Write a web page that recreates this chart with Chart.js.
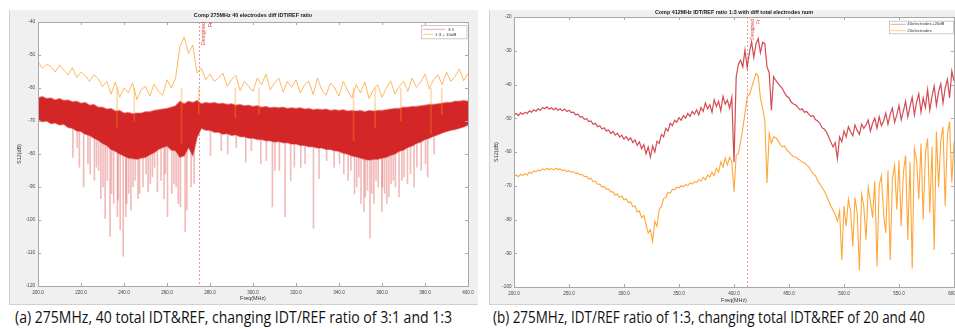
<!DOCTYPE html>
<html lang="en">
  <head>
    <meta charset="UTF-8" />
    <title>S12 comparison</title>
    <script src="https://cdn.jsdelivr.net/npm/chart.js@4.4.1/dist/chart.umd.min.js"></script>
    <style>
      body { margin: 0; width: 955px; height: 329px; overflow: hidden; position: relative; background: #fff; }
      .fig { position: absolute; top: 10px; height: 295px; background: #f0f0f0; box-shadow: inset 1px -1px 0 #d0d0d0; }
      #figA { left: 9px; width: 469px; }
      #figB { left: 489px; width: 466px; }
      .fig canvas { position: absolute; left: 0; top: 0; }
      .cap { position: absolute; top: 309.5px; font-family: "Open Sans", sans-serif; font-size: 15.5px; line-height: 1; color: #111; white-space: nowrap; transform-origin: 0 0; }
    </style>
  </head>
  <body>
    <div class="fig" id="figA"><canvas id="chartA" width="469" height="295"></canvas></div>
    <div class="fig" id="figB"><canvas id="chartB" width="466" height="295"></canvas></div>
    <div class="cap" id="capA" style="left: 15px">(a) 275MHz, 40 total IDT&amp;REF, changing IDT/REF ratio of 3:1 and 1:3</div>
    <div class="cap" id="capB" style="left: 493px">(b) 275MHz, IDT/REF ratio of 1:3, changing total IDT&amp;REF of 20 and 40</div>
    <script>
      // ---- (a) 275MHz, 40 electrodes, 3:1 vs 1:3 ----
      const freqA = Array.from({ length: 101 }, (_, i) => 200 + 2 * i);
      const xTicksA = [200, 220, 240, 260, 280, 300, 320, 340, 360, 380, 400];
      const yTicksA = [-120, -110, -100, -90, -80, -70, -60, -50, -40];
      const designFreqA = 275;

      // 1:3 + 10dB (orange)
      const ratio13 = [
        -52.0, -54.0, -52.8, -53.5, -55.2, -53.0, -54.6, -56.0, -53.8, -56.8,
        -55.2, -56.2, -58.0, -56.0, -57.2, -59.5, -58.0, -61.8, -58.2, -62.8,
        -60.0, -61.5, -58.5, -63.5, -60.5, -59.5, -62.5, -58.8, -61.0, -62.2,
        -57.5, -60.0, -57.0, -47.5, -44.5, -49.5, -47.0, -55.5, -54.0, -57.5,
        -55.8, -58.0, -57.0, -55.5, -59.5, -57.5, -56.2, -60.8, -58.0, -59.5,
        -61.0, -57.0, -59.0, -55.8, -60.5, -58.5, -57.0, -61.2, -58.0, -59.8,
        -57.5, -61.5, -59.0, -58.0, -62.0, -57.0, -60.5, -62.2, -58.5, -60.0,
        -62.5, -58.0, -60.8, -63.0, -59.0, -61.5, -58.2, -63.2, -60.5, -59.0,
        -62.8, -60.0, -57.8, -61.8, -59.5, -58.0, -61.0, -57.0, -59.8, -58.2,
        -55.8, -60.2, -57.5, -56.0, -59.0, -55.2, -58.0, -56.5, -54.2, -57.8,
        -55.5,
      ];
      const orangeSpikeFreqA = [237, 245, 267, 275, 292, 303, 347, 357, 369, 383, 388];
      const orangeSpikeDeepA = [-72, -70, -77, -68, -69, -68, -76, -72, -70, -74, -68];

      // 3:1 (red) : upper and lower edge of the dense band
      const ratio31Top = [
        -63.0, -62.6, -63.2, -63.0, -63.6, -63.2, -63.8, -63.6, -64.2, -64.0,
        -64.6, -64.4, -65.2, -65.0, -65.8, -65.8, -66.4, -66.2, -67.0, -66.8,
        -67.6, -67.4, -67.8, -67.6, -67.6, -67.2, -67.2, -66.8, -66.6, -66.4,
        -66.2, -65.8, -65.4, -64.0, -64.8, -64.0, -64.4, -63.8, -64.8, -64.4,
        -64.6, -64.4, -64.8, -64.6, -65.0, -64.8, -65.2, -65.0, -65.4, -65.2,
        -65.6, -65.4, -65.8, -65.6, -66.0, -65.8, -66.0, -65.8, -66.2, -66.0,
        -66.2, -66.0, -66.4, -66.2, -66.6, -66.4, -66.6, -66.4, -66.8, -66.6,
        -66.8, -66.6, -67.0, -66.8, -67.0, -66.8, -67.2, -66.8, -67.0, -66.8,
        -66.8, -66.6, -66.4, -66.2, -66.2, -65.8, -65.8, -65.6, -65.6, -65.4,
        -65.2, -65.0, -65.0, -64.8, -64.6, -64.4, -64.4, -64.0, -64.0, -63.8,
        -64.0,
      ];
      const ratio31Bot = [
        -69.5, -70.2, -70.0, -70.8, -70.6, -71.2, -71.0, -72.0, -72.2, -73.0,
        -73.2, -74.0, -74.4, -75.2, -75.8, -76.8, -77.4, -78.6, -79.2, -80.0,
        -80.6, -81.2, -81.4, -81.6, -81.2, -81.0, -80.2, -79.6, -78.6, -78.0,
        -77.6, -78.8, -79.0, -81.0, -80.5, -78.0, -80.5, -75.0, -72.2, -72.8,
        -72.8, -73.4, -73.4, -74.0, -73.8, -74.4, -74.2, -74.8, -74.8, -75.2,
        -75.2, -75.6, -75.6, -76.0, -76.0, -76.4, -76.2, -76.6, -76.6, -77.0,
        -77.0, -77.4, -77.4, -77.8, -77.8, -78.2, -78.2, -78.6, -78.6, -79.0,
        -79.2, -79.8, -80.0, -80.6, -80.8, -81.2, -81.6, -81.8, -81.6, -81.6,
        -81.2, -81.0, -80.4, -80.0, -79.2, -78.8, -78.0, -77.6, -76.8, -76.4,
        -75.6, -75.2, -74.6, -74.2, -73.6, -73.2, -72.8, -72.6, -72.2, -71.8,
        -71.2,
      ];
      // deep notches of the 3:1 trace
      const spikeFreqA = [
        216, 219, 221, 224, 227, 229, 231, 233.3, 235, 236.7, 238, 239.4, 240.6, 242, 243,
        245, 246.3, 248.6, 251, 253, 255.3, 258.4, 260, 263, 265, 268.2, 272.4, 280, 288, 296.4,
        303.4, 308.8, 312, 314.7, 317.3, 322, 327.9, 330.5, 337.5, 342, 345.3, 348, 350, 351.4, 353,
        354.2, 356, 358, 359.7, 361, 363, 365, 367.7, 370, 371.6, 374.7, 378, 381, 384,
        218, 223, 226, 228, 230, 232, 234, 237, 241, 244, 247, 250, 252, 254, 257,
        259, 262, 264, 266, 269, 271, 285, 292, 299, 306, 310, 319, 324, 334, 340,
        344, 347, 349, 352, 355, 357, 360, 362, 364, 366, 369, 373, 376, 380,
      ];
      const spikeDeepA = [
        -81, -84, -90, -86, -84, -93.5, -99.5, -105, -95, -99, -103, -111, -99, -92, -97,
        -88, -93.5, -90, -91.5, -87, -91.5, -93.5, -99, -89, -95, -103.5, -89, -80.5, -80, -82.5,
        -83, -96, -85, -99, -88, -84, -102.5, -87.5, -84, -86, -85, -90, -95, -97.5, -91,
        -105.5, -95, -90, -97.5, -92, -93, -88, -93, -87, -89, -90, -85, -87, -80,
        -78, -83, -88, -85, -90, -88, -92, -94, -95, -90, -92, -86, -89, -84, -88,
        -86, -92, -90, -96, -97, -90, -79, -78, -79, -82, -85, -84, -83, -82, -83,
        -88, -92, -87, -93, -92, -88, -90, -95, -89, -90, -88, -86, -84, -83,
      ];

      // ---- (b) 412MHz, 1:3, 20 vs 40 electrodes ----
      const freqB = Array.from({ length: 201 }, (_, i) => 200 + 2 * i);
      const xTicksB = [200, 250, 300, 350, 400, 450, 500, 550, 600];
      const yTicksB = [-100, -90, -80, -70, -60, -50, -40, -30, -20];
      const designFreqB = 412;

      // 40electrodes + 20dB (red)
      const elec40 = [
        -49.0, -48.6, -49.2, -48.4, -48.8, -48.2, -48.6, -47.8, -48.2, -47.5,
        -47.9, -47.2, -47.6, -46.8, -47.2, -46.6, -47.3, -46.9, -47.5, -47.0,
        -47.6, -47.2, -47.8, -47.3, -48.0, -47.6, -48.3, -48.2, -49.0, -48.8,
        -49.6, -49.5, -50.3, -50.1, -51.0, -50.8, -51.8, -51.5, -52.5, -52.2,
        -53.2, -52.8, -53.8, -53.4, -54.5, -53.9, -55.0, -54.4, -55.6, -55.0,
        -56.2, -55.4, -56.5, -55.8, -57.2, -56.4, -58.0, -57.0, -59.0, -57.8,
        -60.5, -58.5, -61.5, -58.2, -60.0, -56.8, -57.5, -54.8, -55.5, -53.0,
        -53.8, -51.5, -52.2, -50.6, -51.2, -49.8, -50.6, -49.2, -50.0, -48.6,
        -49.5, -48.0, -48.8, -47.5, -49.0, -46.8, -48.0, -45.5, -47.2, -46.0,
        -48.2, -44.5, -46.5, -45.0, -47.8, -43.5, -45.8, -44.6, -47.0, -43.8,
        -63.0, -37.7, -34.0, -32.8, -34.8, -29.8, -35.0, -30.5, -27.4, -32.0,
        -28.0, -26.4, -30.6, -27.5, -27.9, -34.8, -36.5, -47.6, -37.7, -38.8,
        -39.6, -40.5, -41.2, -42.5, -43.5, -44.0, -45.2, -45.8, -46.0, -46.8,
        -47.5, -47.2, -48.2, -48.0, -48.8, -49.5, -49.2, -50.4, -50.8, -51.5,
        -52.8, -53.2, -54.0, -55.5, -57.0, -58.5, -57.2, -62.0, -55.5, -57.0,
        -53.8, -55.5, -52.5, -54.0, -55.2, -52.0, -53.6, -54.8, -51.8, -53.0,
        -52.0, -50.5, -53.8, -51.5, -50.0, -53.0, -49.6, -52.2, -50.8, -48.5,
        -51.8, -48.8, -47.0, -51.2, -49.0, -46.2, -50.5, -47.8, -45.0, -49.6,
        -46.5, -43.8, -49.0, -45.2, -42.8, -48.2, -44.0, -46.8, -41.5, -47.6,
        -43.5, -40.5, -46.2, -42.2, -39.8, -45.5, -41.0, -38.5, -44.0, -36.0,
        -39.0,
      ];
      // 20electrodes (orange)
      const elec20 = [
        -67.2, -66.8, -67.3, -66.6, -67.0, -66.4, -66.8, -66.0, -66.3, -65.6,
        -65.9, -65.3, -65.6, -65.0, -65.3, -64.8, -65.2, -64.9, -65.3, -64.8,
        -65.2, -65.0, -65.5, -65.3, -65.8, -65.6, -66.0, -65.8, -66.4, -66.2,
        -66.8, -66.6, -67.3, -67.2, -68.0, -67.8, -68.8, -68.6, -69.6, -69.5,
        -70.4, -70.2, -71.0, -71.0, -71.8, -71.8, -72.8, -72.5, -73.5, -73.0,
        -74.2, -73.8, -75.0, -74.8, -76.2, -76.0, -77.8, -77.5, -79.5, -78.8,
        -81.5, -84.0, -83.0, -86.5, -80.5, -82.0, -77.0, -76.2, -73.8, -73.5,
        -72.0, -72.2, -71.0, -71.2, -70.4, -70.6, -70.0, -70.3, -69.6, -70.0,
        -69.2, -69.5, -68.8, -69.0, -68.2, -68.6, -67.5, -68.2, -66.8, -67.5,
        -66.0, -67.0, -64.8, -66.0, -63.0, -64.5, -61.8, -63.8, -61.5, -63.0,
        -71.8, -61.0, -60.5, -57.0, -53.0, -48.5, -43.6, -43.0, -41.0, -38.7,
        -36.7, -37.5, -44.0, -47.0, -50.5, -69.2, -54.5, -57.4, -55.5, -55.8,
        -56.5, -57.8, -58.5, -58.2, -59.4, -60.0, -60.8, -61.4, -61.5, -62.0,
        -62.4, -63.0, -63.2, -63.8, -64.4, -65.5, -66.5, -67.0, -68.5, -69.5,
        -70.5, -71.5, -72.8, -74.5, -76.0, -77.2, -78.5, -80.5, -77.5, -92.0,
        -76.0, -82.0, -74.0, -77.5, -88.0, -73.5, -78.0, -95.0, -72.5, -76.0,
        -86.0, -70.5, -74.5, -79.5, -68.5, -94.0, -70.0, -67.0, -78.5, -84.0,
        -65.5, -92.0, -68.0, -64.0, -77.0, -62.5, -82.0, -66.0, -61.0, -86.0,
        -63.0, -94.5, -59.0, -62.5, -74.0, -57.5, -80.0, -60.5, -56.0, -78.0,
        -58.5, -89.0, -54.0, -70.5, -56.5, -52.5, -76.0, -55.0, -51.0, -69.0,
        -57.0,
      ];

      const FONT = "'Liberation Sans', Arial, sans-serif";
      Chart.defaults.font.family = FONT;

      function pairs(xs, ys) {
        return ys.map((y, i) => ({ x: xs[i], y: y }));
      }
      function spikes(xs, from, ys) {
        return ys.map((y, i) => ({ x: xs[i], y: [from, y] }));
      }

      // matlab-like axes box, inward ticks, titles, xline label and legend
      const matlabFrame = {
        id: "matlabFrame",
        beforeDraw(chart) {
          const { ctx, chartArea: a } = chart;
          ctx.save();
          ctx.fillStyle = "#ffffff";
          ctx.fillRect(a.left, a.top, a.right - a.left, a.bottom - a.top);
          ctx.restore();
        },
        beforeDatasetsDraw(chart, args, o) {
          const { ctx, chartArea: a } = chart;
          const x = Math.round(chart.scales.x.getPixelForValue(o.designFreq)) + 0.5;
          ctx.save();
          ctx.strokeStyle = "rgba(232,90,90,0.8)";
          ctx.lineWidth = 0.8;
          ctx.setLineDash([2, 2]);
          ctx.beginPath();
          ctx.moveTo(x, a.top);
          ctx.lineTo(x, a.bottom);
          ctx.stroke();
          ctx.restore();
        },
        afterDraw(chart, args, o) {
          const { ctx, chartArea: a } = chart;
          const sx = chart.scales.x, sy = chart.scales.y;
          ctx.save();
          ctx.strokeStyle = "#a8a8a8";
          ctx.lineWidth = 1;
          ctx.strokeRect(Math.round(a.left) + 0.5, Math.round(a.top) + 0.5, Math.round(a.right - a.left), Math.round(a.bottom - a.top));
          ctx.beginPath();
          sx.ticks.forEach((t) => {
            const x = Math.round(sx.getPixelForValue(t.value)) + 0.5;
            ctx.moveTo(x, a.bottom); ctx.lineTo(x, a.bottom - 3);
            ctx.moveTo(x, a.top); ctx.lineTo(x, a.top + 3);
          });
          sy.ticks.forEach((t) => {
            const y = Math.round(sy.getPixelForValue(t.value)) + 0.5;
            ctx.moveTo(a.left, y); ctx.lineTo(a.left + 3, y);
            ctx.moveTo(a.right, y); ctx.lineTo(a.right - 3, y);
          });
          ctx.stroke();

          // title + axis titles
          ctx.textAlign = "center";
          ctx.textBaseline = "middle";
          ctx.fillStyle = "#1a1a1a";
          ctx.font = "bold 5.4px " + FONT;
          ctx.fillText(o.title, (a.left + a.right) / 2, o.titleY);
          ctx.fillStyle = "#333";
          ctx.font = "5.4px " + FONT;
          ctx.fillText("Freq(MHz)", (a.left + a.right) / 2, o.xLabelY);
          ctx.save();
          ctx.translate(o.yLabelX, (a.top + a.bottom) / 2);
          ctx.rotate(-Math.PI / 2);
          ctx.fillText("S12(dB)", 0, 0);
          ctx.restore();

          // "Designed Fr" label along the dashed line
          const lx = sx.getPixelForValue(o.designFreq) + o.labelDx;
          ctx.save();
          ctx.translate(lx, o.labelTop);
          ctx.rotate(-Math.PI / 2);
          ctx.fillStyle = "#e8413c";
          ctx.font = o.labelSize + "px " + FONT;
          ctx.textAlign = "right";
          ctx.fillText("Designed", 0, 0);
          ctx.fillText("Fr", 0, o.labelGap);
          ctx.restore();

          // legend
          const L = o.legend;
          ctx.fillStyle = "#fff";
          ctx.fillRect(L.box[0], L.box[1], L.box[2], L.box[3]);
          ctx.strokeStyle = "#bdbdbd";
          ctx.lineWidth = 0.8;
          ctx.strokeRect(L.box[0] + 0.5, L.box[1] + 0.5, L.box[2], L.box[3]);
          ctx.font = L.size + "px " + FONT;
          ctx.textAlign = "left";
          L.items.forEach((it) => {
            ctx.strokeStyle = it.color;
            ctx.lineWidth = 1;
            ctx.beginPath();
            ctx.moveTo(it.x1, it.y);
            ctx.lineTo(it.x2, it.y);
            ctx.stroke();
            ctx.fillStyle = "#333";
            ctx.fillText(it.text, it.tx, it.y);
          });
          ctx.restore();
        },
      };

      function axes(xTicks, yTicks, yWidth, xHeight, yPad, xPad) {
        const tickFont = { size: 4.6, family: FONT };
        return {
          x: {
            type: "linear",
            min: xTicks[0],
            max: xTicks[xTicks.length - 1],
            offset: false,
            grid: { display: false, drawTicks: false },
            border: { display: false },
            afterBuildTicks: (s) => { s.ticks = xTicks.map((v) => ({ value: v })); },
            afterFit: (s) => { s.height = xHeight; s.paddingLeft = 0; s.paddingRight = 0; },
            ticks: { font: tickFont, color: "#444", padding: xPad, maxRotation: 0, autoSkip: false, callback: (v) => Number(v).toFixed(1) },
          },
          y: {
            type: "linear",
            min: yTicks[0],
            max: yTicks[yTicks.length - 1],
            grid: { display: false, drawTicks: false },
            border: { display: false },
            afterBuildTicks: (s) => { s.ticks = yTicks.map((v) => ({ value: v })); },
            afterFit: (s) => { s.width = yWidth; s.paddingTop = 0; s.paddingBottom = 0; },
            ticks: { font: tickFont, color: "#444", padding: yPad, autoSkip: false, callback: (v) => String(v) },
          },
        };
      }

      const lineBase = { pointRadius: 0, tension: 0, fill: false };

      new Chart(document.getElementById("chartA"), {
        type: "line",
        data: {
          datasets: [
            { ...lineBase, label: "1:3 + 10dB", data: pairs(freqA, ratio13), borderColor: "rgba(255,160,45,0.75)", borderWidth: 1 },
            { type: "bar", label: "1:3 notches", data: spikes(orangeSpikeFreqA, -60, orangeSpikeDeepA), backgroundColor: "rgba(255,150,30,0.35)", barThickness: 1, borderWidth: 0 },
            { ...lineBase, label: "3:1", data: pairs(freqA, ratio31Top), borderColor: "rgba(225,80,80,0.5)", borderWidth: 1.4, backgroundColor: "#d42626", fill: "+1" },
            { ...lineBase, label: "3:1 low", data: pairs(freqA, ratio31Bot), borderColor: "rgba(215,60,60,0.45)", borderWidth: 1.4 },
            { type: "bar", label: "3:1 notches", data: spikes(spikeFreqA, -70, spikeDeepA), backgroundColor: "rgba(215,50,50,0.33)", barThickness: 1, borderWidth: 0 },
          ],
        },
        options: {
          responsive: false,
          animation: false,
          devicePixelRatio: 1,
          layout: { padding: { left: 0, top: 12, right: 10, bottom: 0 } },
          scales: axes(xTicksA, yTicksA, 29, 19, 3, 3.5),
          plugins: {
            legend: { display: false },
            tooltip: { enabled: false },
            matlabFrame: {
              title: "Comp 275MHz 40 electrodes diff IDT/REF ratio",
              titleY: 6,
              xLabelY: 289,
              yLabelX: 11,
              designFreq: designFreqA,
              labelDx: 4,
              labelTop: 12,
              labelGap: 6.8,
              labelSize: 5.5,
              legend: {
                box: [412, 15, 45.5, 13.3],
                size: 4.4,
                items: [
                  { text: "3:1", color: "rgba(225,100,100,0.55)", x1: 414, x2: 436, tx: 439, y: 19.3 },
                  { text: "1:3 + 10dB", color: "rgba(255,180,100,0.75)", x1: 414, x2: 424, tx: 426, y: 24.3 },
                ],
              },
            },
          },
        },
        plugins: [matlabFrame],
      });

      new Chart(document.getElementById("chartB"), {
        type: "line",
        data: {
          datasets: [
            { ...lineBase, label: "20electrodes", data: pairs(freqB, elec20), borderColor: "rgba(255,150,25,0.85)", borderWidth: 1.1 },
            { ...lineBase, label: "40electrodes+20dB", data: pairs(freqB, elec40), borderColor: "rgba(200,30,40,0.8)", borderWidth: 1.2 },
          ],
        },
        options: {
          responsive: false,
          animation: false,
          devicePixelRatio: 1,
          layout: { padding: { left: 0, top: 7, right: 1, bottom: 0 } },
          scales: axes(xTicksB, yTicksB, 25, 18, 2.5, 4),
          plugins: {
            legend: { display: false },
            tooltip: { enabled: false },
            matlabFrame: {
              title: "Comp 412MHz IDT/REF ratio 1:3 with diff total electrodes num",
              titleY: 2.8,
              xLabelY: 290.5,
              yLabelX: 8,
              designFreq: designFreqB,
              labelDx: 5.5,
              labelTop: 9.3,
              labelGap: 5.7,
              labelSize: 4.9,
              legend: {
                box: [400, 10.7, 64, 12.6],
                size: 4.3,
                items: [
                  { text: "40electrodes+20dB", color: "rgba(225,100,100,0.6)", x1: 401.5, x2: 417, tx: 418.3, y: 14.3 },
                  { text: "20electrodes", color: "rgba(255,185,100,0.75)", x1: 401.5, x2: 417, tx: 418.3, y: 20.7 },
                ],
              },
            },
          },
        },
        plugins: [matlabFrame],
      });

      // fit captions to the width they take in the figure
      [["capA", 437], ["capB", 432]].forEach(([id, w]) => {
        const el = document.getElementById(id);
        el.style.transform = "scaleX(" + w / el.getBoundingClientRect().width + ")";
      });
    </script>
  </body>
</html>
